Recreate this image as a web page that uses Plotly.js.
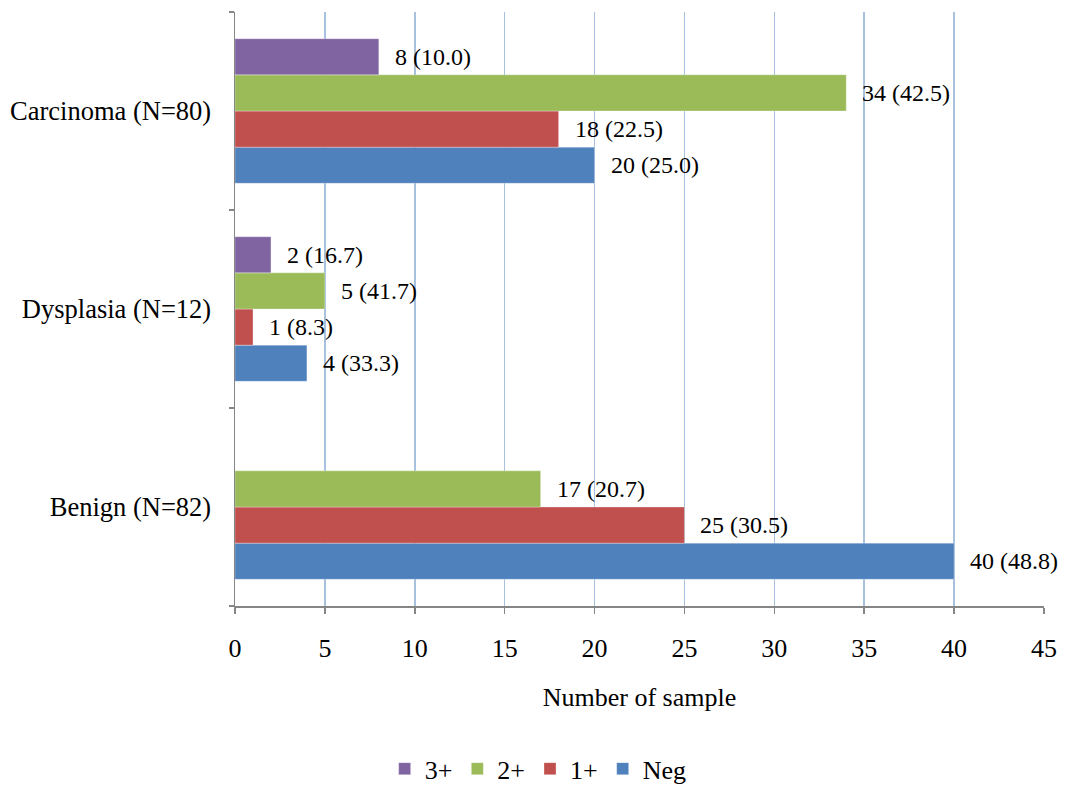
<!DOCTYPE html>
<html>
<head>
<meta charset="utf-8">
<script src="https://cdn.plot.ly/plotly-3.0.1.min.js"></script>
<style>
  html, body { margin: 0; padding: 0; background: #fff; }
  #chart { width: 1067px; height: 785px; }
</style>
</head>
<body>
<div id="chart"></div>
<script>
// Groups, bottom to top on the category axis
const categories = ['Benign (N=82)', 'Dysplasia (N=12)', 'Carcinoma (N=80)'];

// Sample counts per HER2 score, same order as categories
const negCounts   = [40, 4, 20];
const onePlus     = [25, 1, 18];
const twoPlus     = [17, 5, 34];
const threePlus   = [0, 2, 8];

// Percentages within each group, shown in brackets
const negPct      = [48.8, 33.3, 25.0];
const onePlusPct  = [30.5, 8.3, 22.5];
const twoPlusPct  = [20.7, 41.7, 42.5];
const threePlusPct = [0.0, 16.7, 10.0];

const seriesNames = ['Neg', '1+', '2+', '3+'];
const seriesColors = ['#4F81BD', '#C0504D', '#9BBB59', '#8064A2'];

const xTicks = [0, 5, 10, 15, 20, 25, 30, 35, 40, 45];

const counts = [negCounts, onePlus, twoPlus, threePlus];
const pcts = [negPct, onePlusPct, twoPlusPct, threePlusPct];

const BARGAP = 0.27;
const serif = 'Liberation Serif, Times New Roman, serif';

const traces = counts.map((vals, i) => ({
  type: 'bar',
  orientation: 'h',
  name: seriesNames[i],
  x: vals,
  y: categories,
  marker: { color: seriesColors[i], line: { color: 'rgba(255,255,255,0.6)', width: 0.5 } },
  hoverinfo: 'x+name'
}));

// Value labels placed just past the end of each bar
const slot = (1 - BARGAP) / counts.length;
const annotations = [];
counts.forEach((vals, i) => {
  vals.forEach((v, j) => {
    if (v === 0) return;
    annotations.push({
      x: v,
      y: j - (1 - BARGAP) / 2 + slot * (i + 0.5),
      xref: 'x', yref: 'y',
      text: v + ' (' + pcts[i][j].toFixed(1) + ')',
      showarrow: false,
      xanchor: 'left', yanchor: 'middle',
      xshift: 14,
      font: { family: serif, size: 24, color: '#000' }
    });
  });
});

const layout = {
  width: 1067,
  height: 785,
  margin: { l: 235, r: 23, t: 12, b: 179, autoexpand: false },
  paper_bgcolor: '#fff',
  plot_bgcolor: '#fff',
  barmode: 'group',
  bargap: BARGAP,
  bargroupgap: 0,
  font: { family: serif, size: 26, color: '#000' },
  xaxis: {
    range: [0, 45],
    tickvals: xTicks,
    ticktext: xTicks.map(String),
    showgrid: true,
    gridcolor: '#A7C1DF',
    gridwidth: 1.5,
    zeroline: false,
    showline: true,
    linecolor: '#868686',
    linewidth: 1.5,
    ticks: 'outside',
    ticklen: 6,
    tickwidth: 1.5,
    tickcolor: '#868686',
    ticklabelstandoff: 12,
    tickfont: { family: serif, size: 26, color: '#000' },
    title: { text: 'Number of sample', standoff: 26, font: { family: serif, size: 26, color: '#000' } },
    automargin: false,
    fixedrange: true
  },
  yaxis: {
    type: 'category',
    categoryorder: 'array',
    categoryarray: categories,
    showgrid: false,
    zeroline: false,
    showline: true,
    linecolor: '#868686',
    linewidth: 1.5,
    ticks: 'outside',
    tickson: 'boundaries',
    ticklen: 5,
    tickwidth: 1.5,
    tickcolor: '#868686',
    ticklabelstandoff: 17,
    tickfont: { family: serif, size: 26.5, color: '#000' },
    automargin: false,
    fixedrange: true
  },
  showlegend: true,
  legend: {
    orientation: 'h',
    traceorder: 'reversed',
    x: 0.185,
    xanchor: 'left',
    y: -0.274,
    yanchor: 'middle',
    font: { family: serif, size: 26, color: '#000' },
    itemwidth: 30,
    bgcolor: 'rgba(0,0,0,0)'
  },
  annotations: annotations
};

Plotly.newPlot('chart', traces, layout, { displayModeBar: false, staticPlot: true });
</script>
</body>
</html>
